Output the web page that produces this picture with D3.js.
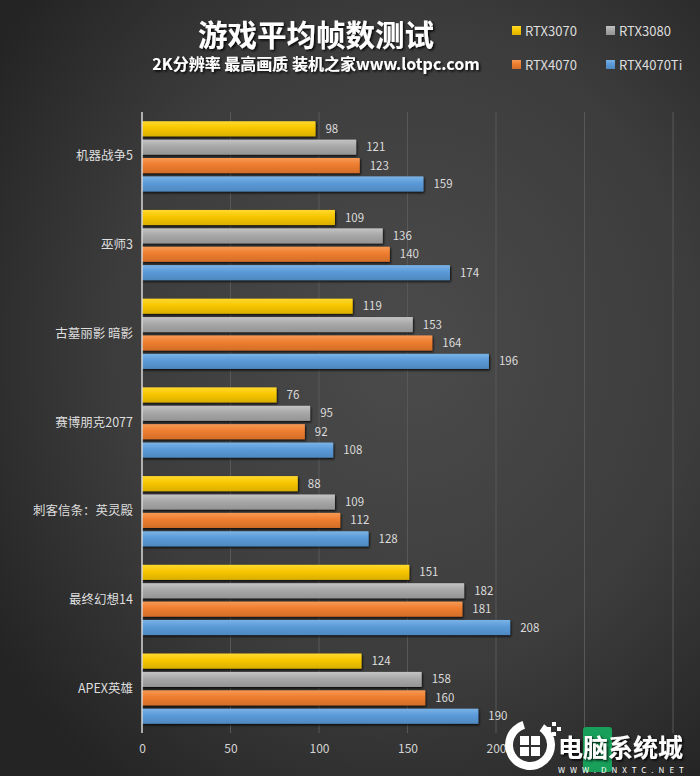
<!DOCTYPE html>
<html><head><meta charset="utf-8">
<script src="https://cdn.jsdelivr.net/npm/d3@7"></script>
<style>html,body{margin:0;padding:0;background:#333;}svg{display:block;}</style>
</head><body>
<svg id="chart" width="700" height="776"></svg>
<script>
const categories = ["机器战争5","巫师3","古墓丽影 暗影","赛博朋克2077","刺客信条：英灵殿","最终幻想14","APEX英雄"];
const seriesNames = ["RTX3070","RTX3080","RTX4070","RTX4070Ti"];
const rtx3070 = [98,109,119,76,88,151,124];
const rtx3080 = [121,136,153,95,109,182,158];
const rtx4070 = [123,140,164,92,112,181,160];
const rtx4070ti = [159,174,196,108,128,208,190];
const gridValues = [50,100,150,200,250,300];
const tickLabels = [0,50,100,150,200];
const title = "游戏平均帧数测试";
const subtitle = "2K分辨率 最高画质 装机之家www.lotpc.com";

const seriesValues = [rtx3070, rtx3080, rtx4070, rtx4070ti];
const colors = ["#f7c600","#a8a8a8","#ee7d2f","#5a9ad8"];
const colorsLight = ["#ffd92e","#c4c4c4","#f79a55","#7ab3e6"];
const FONT = "'Noto Sans CJK SC','Noto Sans',sans-serif";

const svg = d3.select("#chart");
const W = 700, H = 776;
const defs = svg.append("defs");
const bg = defs.append("radialGradient").attr("id","bg").attr("cx","58%").attr("cy","45%").attr("r","70%");
bg.append("stop").attr("offset","0%").attr("stop-color","#4b4b4b");
bg.append("stop").attr("offset","60%").attr("stop-color","#3c3c3c");
bg.append("stop").attr("offset","100%").attr("stop-color","#242424");
svg.append("rect").attr("width",W).attr("height",H).attr("fill","url(#bg)");

const sh = defs.append("filter").attr("id","shadow").attr("x","-5%").attr("y","-30%").attr("width","115%").attr("height","170%");
sh.append("feDropShadow").attr("dx",1).attr("dy",1.5).attr("stdDeviation",1.2).attr("flood-color","#000").attr("flood-opacity",0.85);
const tsh = defs.append("filter").attr("id","tshadow");
tsh.append("feDropShadow").attr("dx",1.5).attr("dy",1.5).attr("stdDeviation",1).attr("flood-color","#000").attr("flood-opacity",0.9);

colors.forEach((c,i)=>{
  const g = defs.append("linearGradient").attr("id","g"+i).attr("x1",0).attr("y1",0).attr("x2",0).attr("y2",1);
  g.append("stop").attr("offset","0%").attr("stop-color",colorsLight[i]);
  g.append("stop").attr("offset","45%").attr("stop-color",c);
  g.append("stop").attr("offset","100%").attr("stop-color",d3.color(c).darker(0.35));
});

const x = d3.scaleLinear().domain([0,300]).range([142,673]);
const y0 = d3.scaleBand().domain(categories).range([112,733]).paddingInner(0.2).paddingOuter(0.1);
const y1 = d3.scaleBand().domain(d3.range(4)).range([0,y0.bandwidth()]).paddingInner(0.18).paddingOuter(0.02);

// gridlines
svg.append("g").selectAll("line").data(gridValues).join("line")
  .attr("x1",d=>x(d)).attr("x2",d=>x(d)).attr("y1",112).attr("y2",733)
  .attr("stroke","#585858").attr("stroke-width",1);

// bars
const groups = svg.append("g").selectAll("g").data(categories).join("g")
  .attr("transform",d=>`translate(0,${y0(d)})`);
groups.each(function(cat,ci){
  const g = d3.select(this);
  seriesValues.forEach((vals,si)=>{
    g.append("rect").attr("x",x(0)).attr("y",y1(si)).attr("width",x(vals[ci])-x(0))
      .attr("height",y1.bandwidth()).attr("fill","url(#g"+si+")").attr("filter","url(#shadow)");
    g.append("text").attr("x",x(vals[ci])+10).attr("y",y1(si)+y1.bandwidth()/2)
      .attr("dy","0.35em").attr("fill","#dcdcdc").attr("font-size",11.5).attr("font-family",FONT)
      .text(vals[ci]);
  });
});

// y axis
const yAxis = svg.append("g").attr("transform","translate(142,0)")
  .call(d3.axisLeft(y0).tickSize(0).tickPadding(9));
yAxis.select(".domain").attr("stroke","#d8d8d8").attr("stroke-width",1.5).attr("d","M0,112V733");
yAxis.selectAll("text").attr("fill","#dedede").attr("font-size",12.5).attr("font-family",FONT);

// x axis
const xAxis = svg.append("g").attr("transform","translate(0,733)")
  .call(d3.axisBottom(x).tickValues(tickLabels).tickSize(0).tickPadding(11));
xAxis.select(".domain").remove();
xAxis.selectAll("text").attr("fill","#d4d4d4").attr("font-size",12).attr("font-family",FONT);

// title
svg.append("text").attr("x",316).attr("y",46).attr("text-anchor","middle")
  .attr("fill","#fff").attr("font-size",29.5).attr("font-weight","bold").attr("font-family",FONT)
  .attr("filter","url(#tshadow)").text(title);
svg.append("text").attr("x",316).attr("y",70).attr("text-anchor","middle")
  .attr("fill","#fff").attr("font-size",16).attr("font-weight","bold").attr("font-family",FONT)
  .attr("filter","url(#tshadow)").text(subtitle);

// legend
const legPos = [[512,31],[606,31],[512,65],[606,65]];
seriesNames.forEach((n,i)=>{
  const [lx,ly] = legPos[i];
  svg.append("rect").attr("x",lx).attr("y",ly-5).attr("width",9).attr("height",9).attr("fill","url(#g"+i+")");
  svg.append("text").attr("x",lx+13).attr("y",ly).attr("dy","0.35em").attr("fill","#dedede")
    .attr("font-size",13).attr("font-family",FONT).text(n);
});

// watermark (approximate)
const wm = svg.append("g");
wm.append("path").attr("d",d3.arc()({innerRadius:17,outerRadius:25,startAngle:0.6,endAngle:2*Math.PI-0.3}))
  .attr("transform","translate(530,745)").attr("fill","#fff");
[[520,736],[531,736],[520,747],[531,747]].forEach(([a,b])=>wm.append("rect").attr("x",a).attr("y",b).attr("width",9).attr("height",9).attr("fill","#fff"));
[[552,722],[557,727],[552,732],[547,727]].forEach(([a,b])=>wm.append("rect").attr("x",a).attr("y",b).attr("width",4).attr("height",4).attr("fill","#fff"));
wm.append("rect").attr("x",583).attr("y",727).attr("width",29).attr("height",45).attr("rx",3).attr("fill","#18a05a");
wm.append("text").attr("x",558).attr("y",757).attr("fill","#fff").attr("font-size",25).attr("font-weight","bold")
  .attr("font-family",FONT).attr("filter","url(#tshadow)").text("电脑系统城");
wm.append("text").attr("x",558).attr("y",773).attr("fill","#fff").attr("font-size",8).attr("letter-spacing",5)
  .attr("font-family",FONT).text("WWW.DNXTC.NET");
</script>
</body></html>
